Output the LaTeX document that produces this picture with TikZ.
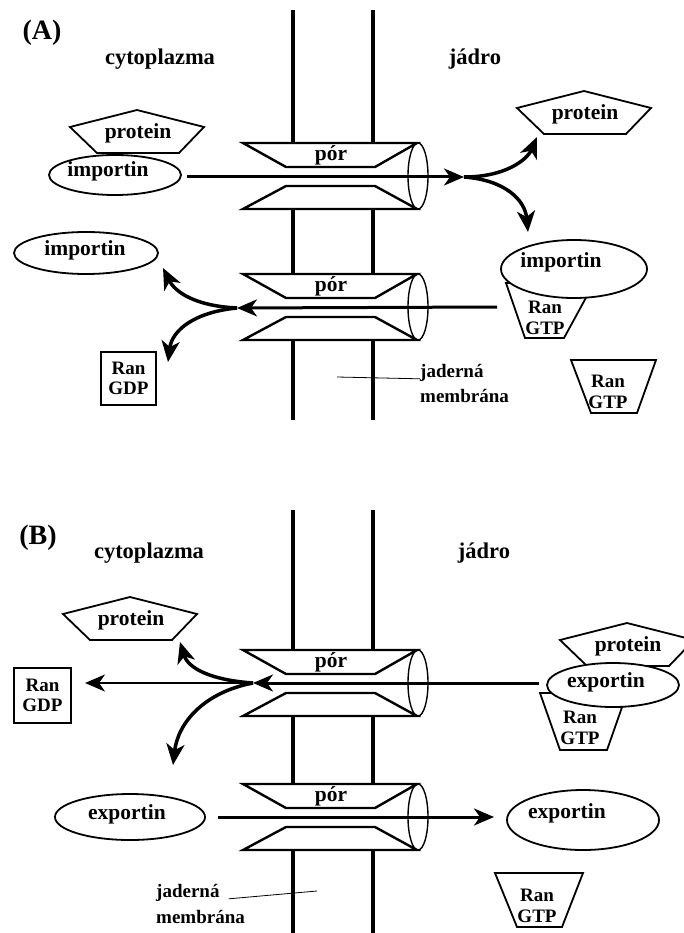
\documentclass[tikz,border=0pt]{standalone}
\usepackage{fontspec}
\setmainfont{Liberation Serif}
\usetikzlibrary{shapes.geometric,arrows.meta}
\newcommand\fsz[1]{\fontsize{#1}{#1}\selectfont}
\tikzset{
  membrane/.style={line width=4pt},
  poreline/.style={draw, line width=2.4pt, fill=white, line join=miter},
  poreend/.style={line width=1.4pt},
  mol/.style={draw, line width=1.8pt, fill=white},
  ell/.style={mol, ellipse, inner sep=0pt},
  lbl/.style={font=\bfseries\fsz{21.5}, inner sep=0pt},
  ranlbl/.style={font=\bfseries\fontsize{19}{20.5}\selectfont, align=center, inner sep=0pt},
  memlbl/.style={font=\bfseries\fsz{19}, inner sep=0pt},
  title/.style={font=\bfseries\fsz{22.5}, inner sep=0pt},
  panel/.style={font=\bfseries\fsz{28}, inner sep=0pt},
  flow/.style={line width=3pt, -{Stealth[length=20pt,width=17pt,inset=6pt]}},
  bendarrow/.style={line width=3.5pt, -{Stealth[length=21pt,width=18pt,inset=6pt]}},
  leader/.style={line width=0.8pt},
}
\newcommand\pore[2]{%
  \begin{scope}[shift={(330,#2)}]
    \draw[poreline] (-87,-33) -- (87,-33) -- (45,-9) -- (-44,-9) -- cycle;
    \draw[poreline] (-44,10) -- (45,10) -- (87,33) -- (-87,33) -- cycle;
    \draw[poreend] (88,0) ellipse [x radius=10, y radius=33];
    \node[lbl] (#1) at (1,-21) {pór};
  \end{scope}}
\newcommand\protein[3]{%
  \begin{scope}[shift={(#2,#3)}]
    \draw[mol] (0,-17) -- (67,0) -- (42,26) -- (-40,26) -- (-67,0) -- cycle;
    \node[lbl] (#1) at (1,6) {protein};
  \end{scope}}
\begin{document}
\begin{tikzpicture}[x=1pt,y=-1pt]
\useasboundingbox[fill=white] (0,0) rectangle (684,933);

% membranes
\foreach \x in {293,373} {
  \draw[membrane] (\x,10) -- (\x,143);
  \draw[membrane] (\x,209) -- (\x,274);
  \draw[membrane] (\x,340) -- (\x,420);
  \draw[membrane] (\x,510) -- (\x,650);
  \draw[membrane] (\x,716) -- (\x,784);
  \draw[membrane] (\x,850) -- (\x,933);
}

% pores
\pore{poreA1}{176}
\pore{poreA2}{307}
\pore{poreB1}{683}
\pore{poreB2}{817}

% ---------- panel A ----------
\protein{protA1}{137}{127}
\node[ell, minimum width=132pt, minimum height=40pt] (impA1) at (115,175) {};
\node[lbl] (impA1t) at (108,171) {importin};

\protein{protA2}{584}{108}
\draw[mol] (506,283) -- (594,283) -- (564,338) -- (525,338) -- cycle;
\node[ell, minimum width=146pt, minimum height=58pt] (impA3) at (574,269) {};
\node[lbl] (impA3t) at (561,262) {importin};
\node[ranlbl] (gtpA1) at (545,318) {Ran\\GTP};

\node[ell, minimum width=144pt, minimum height=42pt] (impA2) at (86,253) {};
\node[lbl] (impA2t) at (85,250) {importin};
\node[mol, ranlbl, minimum width=55pt, minimum height=53pt] (gdpA) at (128.5,378.5) {Ran\\GDP};

\draw[mol] (571,360) -- (656,360) -- (637,413) -- (591,413) -- cycle;
\node[ranlbl] (gtpA2) at (608,392) {Ran\\GTP};

% ---------- panel B ----------
\protein{protB1}{130}{614}
\node[mol, ranlbl, minimum width=57pt, minimum height=55pt] (gdpB) at (42.5,695.5) {Ran\\GDP};
\draw[mol] (540,693) -- (627,693) -- (607,750) -- (560,750) -- cycle;
\protein{protB2}{627}{640}
\node[ell, minimum width=132pt, minimum height=44pt] (expB1) at (613,685) {};
\node[lbl] (expB1t) at (606,682) {exportin};
\node[ranlbl] (gtpB1) at (580,728) {Ran\\GTP};

\node[ell, minimum width=150pt, minimum height=46pt] (expB2) at (130,817) {};
\node[lbl] (expB2t) at (127,814) {exportin};
\node[ell, minimum width=152pt, minimum height=60pt] (expB3) at (583,820) {};
\node[lbl] (expB3t) at (567,813) {exportin};
\draw[mol] (495,873) -- (583,873) -- (562,927) -- (517,927) -- cycle;
\node[ranlbl] (gtpB2) at (537,906) {Ran\\GTP};

% ---------- arrows ----------
\coordinate (srcA1) at (187,177);
\coordinate (splitA1) at (464,177);
\coordinate (tipA1u) at (537,137);
\coordinate (tipA1d) at (528,232);
\draw[flow] (srcA1) -- (splitA1);
\draw[bendarrow] (splitA1) .. controls (505,177) and (527,160) .. (tipA1u);
\draw[bendarrow] (splitA1) .. controls (505,180) and (525,200) .. (tipA1d);

\coordinate (srcA2) at (497,307);
\coordinate (splitA2) at (237,308);
\coordinate (tipA2u) at (163,268);
\coordinate (tipA2d) at (168,362);
\draw[flow] (srcA2) -- (splitA2);
\draw[bendarrow] (splitA2) .. controls (195,306) and (175,292) .. (tipA2u);
\draw[bendarrow] (splitA2) .. controls (195,312) and (172,330) .. (tipA2d);

\coordinate (srcB1) at (539,683);
\coordinate (splitB1) at (253,683);
\coordinate (tipB1l) at (85,683);
\coordinate (tipB1u) at (180,642);
\coordinate (tipB1d) at (173,765);
\draw[flow] (srcB1) -- (splitB1);
\draw[flow, line width=2.5pt] (splitB1) -- (tipB1l);
\draw[bendarrow] (splitB1) .. controls (210,680) and (188,668) .. (tipB1u);
\draw[bendarrow] (splitB1) .. controls (205,692) and (178,722) .. (tipB1d);

\coordinate (srcB2) at (218,817);
\coordinate (tipB2) at (494,817);
\draw[flow] (srcB2) -- (tipB2);

% ---------- labels ----------
\node[panel] (labA) at (42,33) {(A)};
\node[title] (cytA) at (160,59) {cytoplazma};
\node[title] (jadA) at (475,59) {jádro};
\node[panel] (labB) at (38,538) {(B)};
\node[title] (cytB) at (149,553) {cytoplazma};
\node[title] (jadB) at (484,553) {jádro};

\node[memlbl, anchor=west] (memA1) at (420,373) {jaderná};
\node[memlbl, anchor=west] (memA2) at (420,396) {membrána};
\coordinate (leadA) at (337,377);
\draw[leader] (leadA) -- ([yshift=3pt]memA1.south west);

\node[memlbl, anchor=west] (memB1) at (156,893) {jaderná};
\node[memlbl, anchor=west] (memB2) at (156,917) {membrána};
\coordinate (leadB) at (317,891);
\draw[leader] ([xshift=9pt,yshift=3pt]memB1.south east) -- (leadB);
\end{tikzpicture}
\end{document}
